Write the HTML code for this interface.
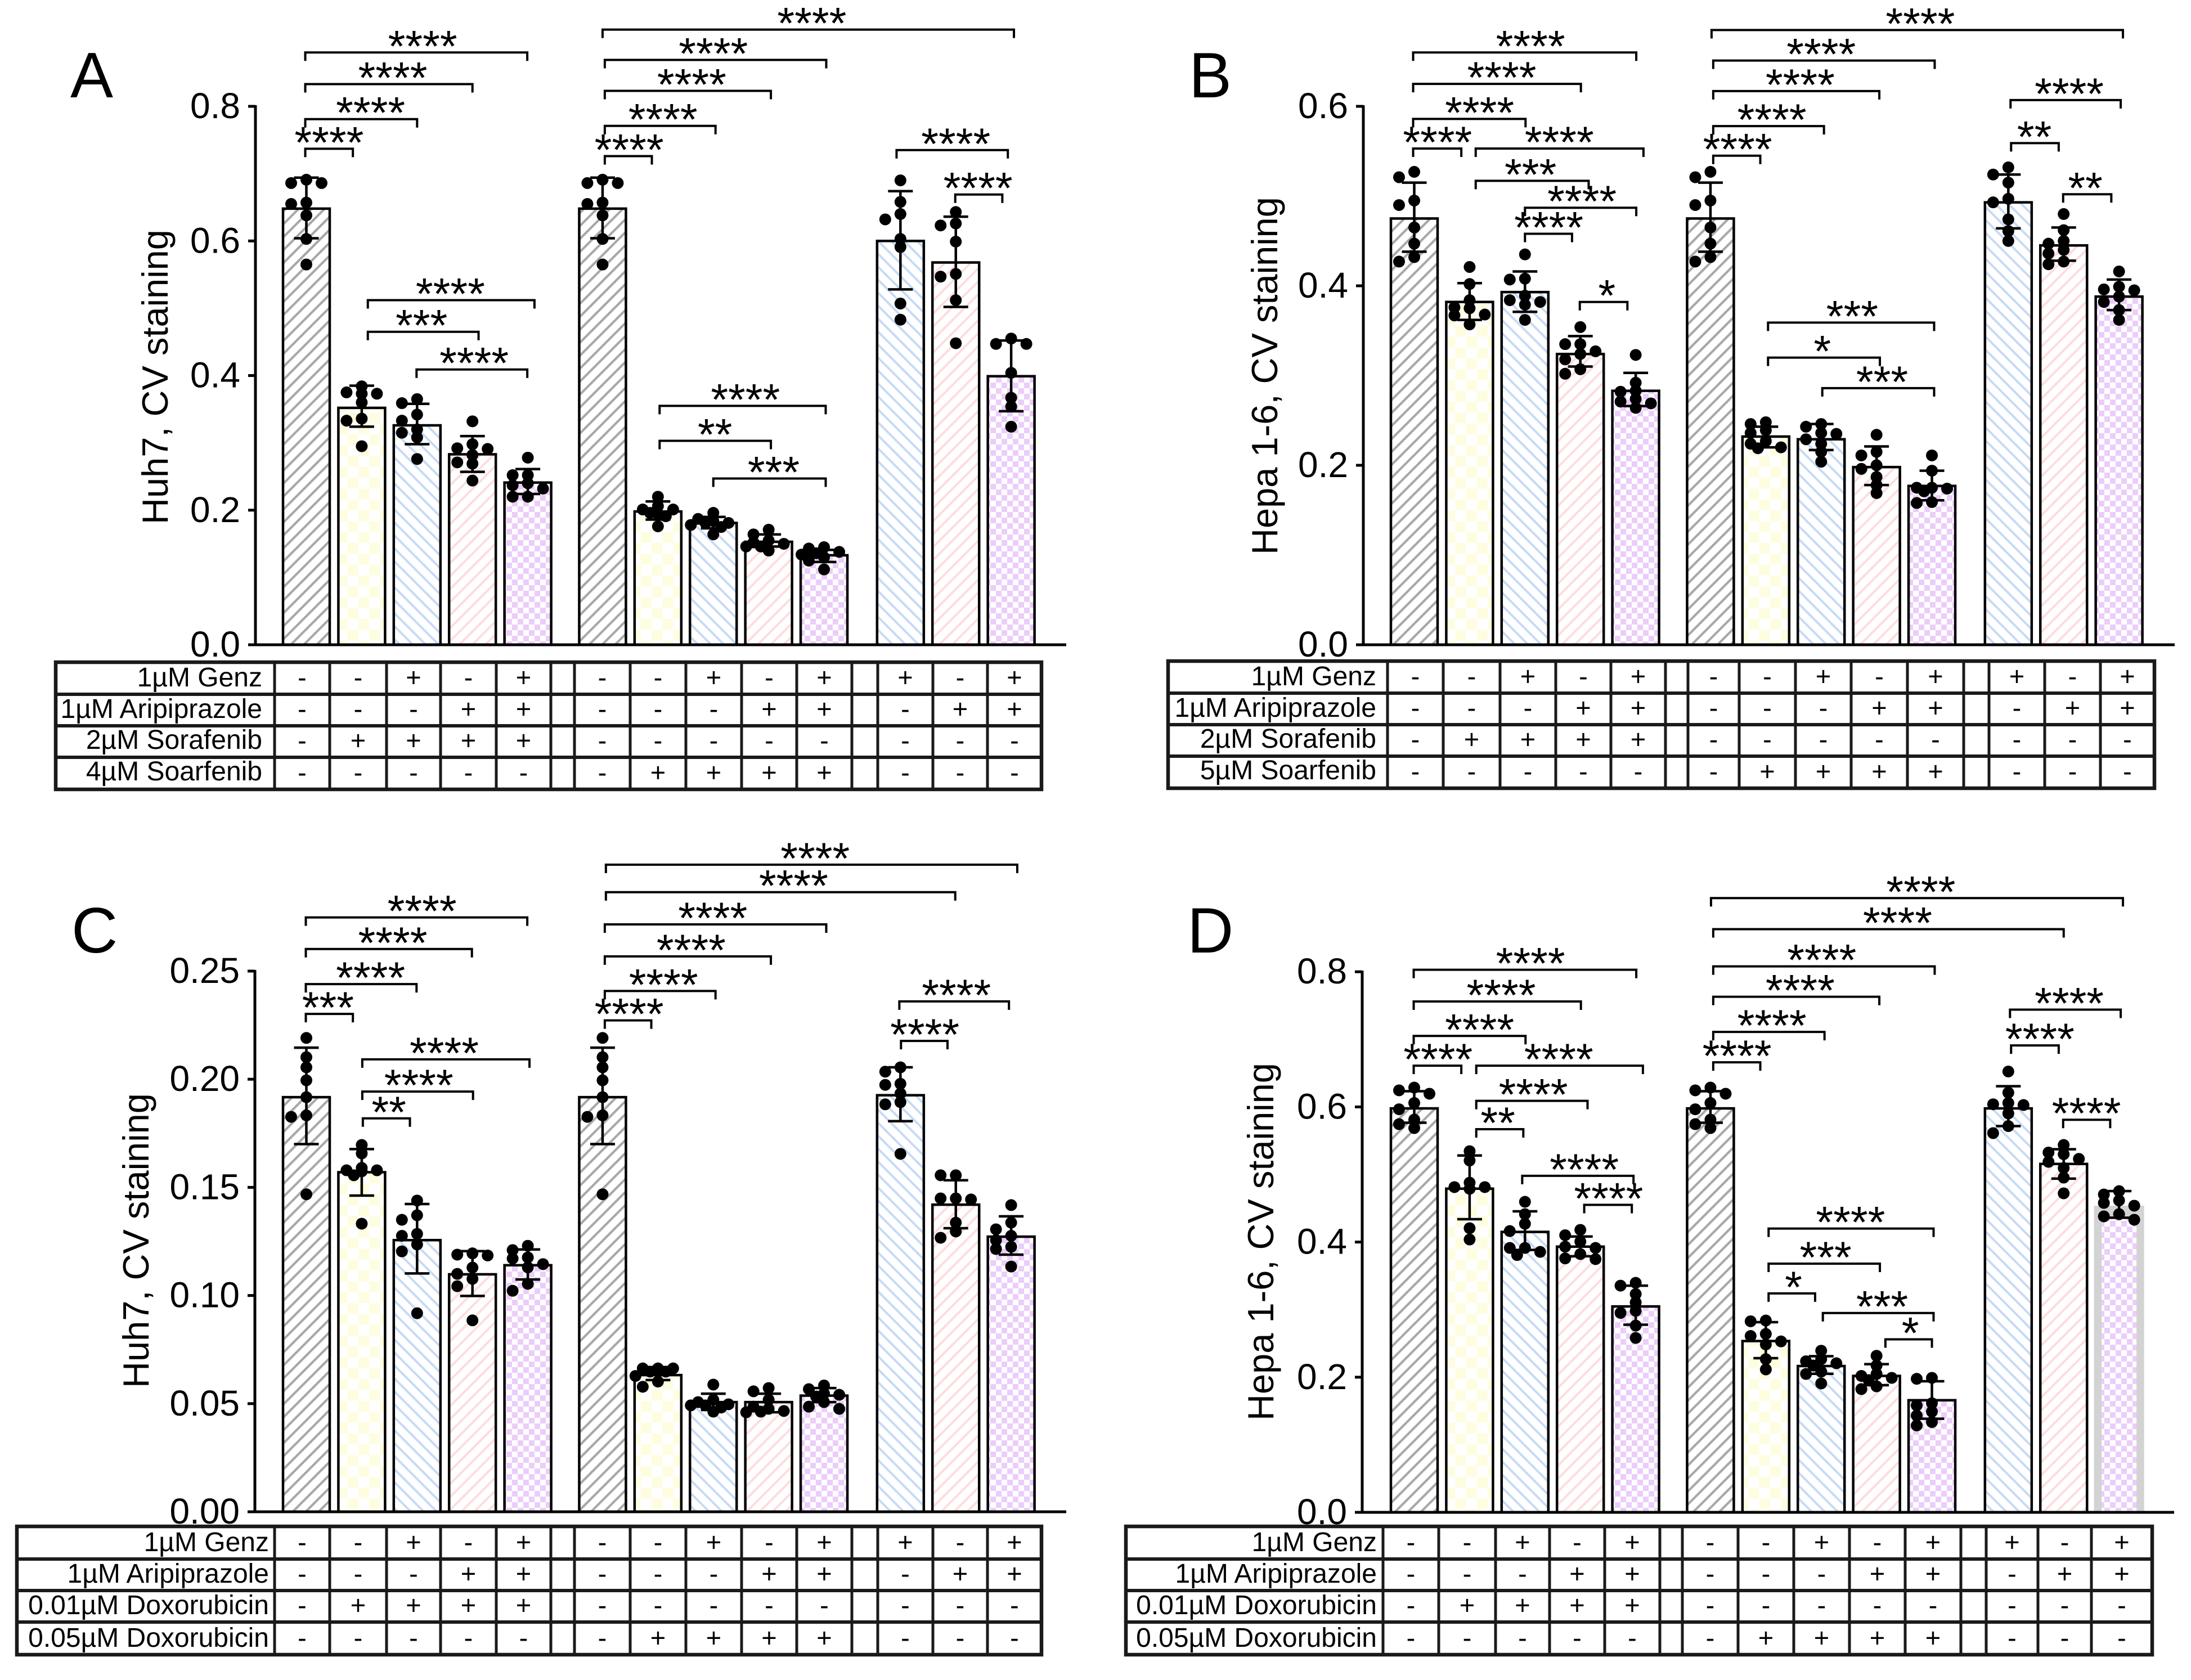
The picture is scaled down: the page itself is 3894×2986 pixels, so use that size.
<!DOCTYPE html>
<html lang="en">
<head>
<meta charset="utf-8">
<title>CV staining bar charts</title>
<style>
html,body{margin:0;padding:0;background:#fff;}
svg{display:block;font-family:"Liberation Sans",sans-serif;}
.ytitle{font-size:65px;text-anchor:middle;}
.letter{font-size:114px;}
.rowlab{font-size:48px;text-anchor:end;}
</style>
</head>
<body>
<svg id="fig" xmlns="http://www.w3.org/2000/svg" width="3894" height="2986" viewBox="0 0 3894 2986">
<defs>
<pattern id="p0" width="16.3" height="16.3" patternUnits="userSpaceOnUse" patternTransform="rotate(45)"><rect width="16.3" height="16.3" fill="#fff"/><rect width="4.2" height="16.3" fill="#a8a8a8"/></pattern>
<pattern id="p1" width="38.6" height="38.6" patternUnits="userSpaceOnUse"><rect width="38.6" height="38.6" fill="#fff"/><rect width="19.3" height="19.3" fill="#fffde0"/><rect x="19.3" y="19.3" width="19.3" height="19.3" fill="#fffde0"/></pattern>
<pattern id="p2" width="16.3" height="16.3" patternUnits="userSpaceOnUse" patternTransform="rotate(-45)"><rect width="16.3" height="16.3" fill="#fff"/><rect width="4" height="16.3" fill="#c6daf6"/></pattern>
<pattern id="p3" width="16.3" height="16.3" patternUnits="userSpaceOnUse" patternTransform="rotate(45)"><rect width="16.3" height="16.3" fill="#fff"/><rect width="4" height="16.3" fill="#ffdcdc"/></pattern>
<pattern id="p4" width="20" height="20" patternUnits="userSpaceOnUse"><rect width="20" height="20" fill="#fff"/><rect width="10" height="10" fill="#ebcdf9"/><rect x="10" y="10" width="10" height="10" fill="#ebcdf9"/></pattern>
</defs>

<text class="letter" x="125" y="173">A</text>
<text class="letter" x="2113" y="173">B</text>
<text class="letter" x="127" y="1693">C</text>
<text class="letter" x="2110" y="1693">D</text>

<text class="ytitle" transform="translate(298,670) rotate(-90)">Huh7, CV staining</text>
<text class="ytitle" transform="translate(2270,668) rotate(-90)">Hepa 1-6, CV staining</text>
<text class="ytitle" transform="translate(264,2205) rotate(-90)">Huh7, CV staining</text>
<text class="ytitle" transform="translate(2263,2207) rotate(-90)">Hepa 1-6, CV staining</text>

<text class="rowlab" x="466" y="1220">1µM Genz</text>
<text class="rowlab" x="466" y="1276">1µM Aripiprazole</text>
<text class="rowlab" x="466" y="1331">2µM Sorafenib</text>
<text class="rowlab" x="466" y="1387">4µM Soarfenib</text>

<text class="rowlab" x="2446" y="1218">1µM Genz</text>
<text class="rowlab" x="2446" y="1274">1µM Aripiprazole</text>
<text class="rowlab" x="2446" y="1329">2µM Sorafenib</text>
<text class="rowlab" x="2446" y="1385">5µM Soarfenib</text>

<text class="rowlab" x="478" y="2757">1µM Genz</text>
<text class="rowlab" x="478" y="2813">1µM Aripiprazole</text>
<text class="rowlab" x="478" y="2869">0.01µM Doxorubicin</text>
<text class="rowlab" x="478" y="2927">0.05µM Doxorubicin</text>

<text class="rowlab" x="2447" y="2757">1µM Genz</text>
<text class="rowlab" x="2447" y="2813">1µM Aripiprazole</text>
<text class="rowlab" x="2447" y="2869">0.01µM Doxorubicin</text>
<text class="rowlab" x="2447" y="2927">0.05µM Doxorubicin</text>
</svg>

<script>
// Shared categories: slot position of each bar on the x axis
const barSlots = [0,1,2,3,4,5.35,6.35,7.35,8.35,9.35,10.73,11.73,12.73];
const barPatterns = [0,1,2,3,4,0,1,2,3,4,2,3,4];

// Treatment rows (identical in each table)
const rowGenz = ['-','-','+','-','+','-','-','+','-','+','+','-','+'];
const rowArip = ['-','-','-','+','+','-','-','-','+','+','-','+','+'];
const rowDrugLow = ['-','+','+','+','+','-','-','-','-','-','-','-','-'];
const rowDrugHigh = ['-','-','-','-','-','-','+','+','+','+','-','-','-'];

// Panel A
const ticksA = [0,0.2,0.4,0.6,0.8];
const tickLabelsA = ['0.0','0.2','0.4','0.6','0.8'];
const meansA = [.648,.352,.326,.283,.241,.648,.198,.181,.153,.133,.600,.568,.399];
const errHighA = [.694,.385,.358,.310,.261,.694,.213,.190,.164,.141,.674,.636,.452];
const errLowA = [.604,.324,.298,.257,.224,.604,.186,.173,.146,.123,.528,.502,.347];
const pointsA = [
[.691,.686,.686,.657,.655,.638,.603,.565],
[.384,.375,.373,.373,.360,.336,.333,.295],
[.365,.359,.342,.333,.320,.315,.308,.276],
[.332,.298,.292,.291,.282,.271,.269,.244],
[.278,.252,.252,.240,.237,.232,.220,.220],
[.691,.686,.686,.657,.655,.638,.603,.565],
[.220,.206,.201,.201,.196,.194,.191,.176],
[.196,.187,.184,.181,.181,.178,.175,.164],
[.171,.164,.155,.152,.150,.146,.146,.140],
[.145,.143,.138,.136,.134,.130,.125,.112],
[.690,.658,.640,.632,.603,.591,.507,.483],
[.643,.626,.623,.599,.551,.547,.512,.448],
[.455,.447,.447,.404,.367,.354,.324]
];
const bracketsA = [
[-.02,.84,.737,'****',.41],[-.02,2,.781,'****',1.16],[-.02,3,.833,'****',1.56],[-.02,3.99,.880,'****',2.10],
[1.11,4.12,.512,'****',2.60],[1.11,3.11,.465,'***',2.08],[1.99,3.99,.409,'****',3.03],
[5.39,6.24,.726,'****',5.83],[5.39,7.39,.771,'****',6.44],[5.39,8.39,.823,'****',6.96],[5.39,9.39,.869,'****',7.35],
[5.35,12.78,.914,'****',9.13],[6.38,9.38,.355,'****',7.93],[6.38,8.39,.303,'**',7.38],[7.35,9.38,.247,'***',8.44],
[10.66,12.67,.735,'****',11.73],[11.72,12.57,.669,'****',12.13]
];

// Panel B
const ticksB = [0,0.2,0.4,0.6];
const tickLabelsB = ['0.0','0.2','0.4','0.6'];
const meansB = [.475,.382,.393,.324,.283,.475,.232,.229,.198,.177,.493,.445,.388];
const errHighB = [.515,.403,.416,.344,.303,.515,.243,.246,.221,.194,.524,.465,.407];
const errLowB = [.438,.362,.371,.310,.266,.438,.220,.217,.178,.161,.464,.428,.373];
const pointsB = [
[.527,.521,.495,.490,.465,.447,.432,.427],
[.421,.402,.384,.376,.375,.368,.367,.357],
[.435,.408,.407,.389,.384,.382,.379,.362],
[.354,.335,.335,.327,.324,.318,.307,.302],
[.323,.292,.283,.282,.274,.271,.269,.264],
[.527,.521,.495,.490,.465,.447,.432,.427],
[.248,.246,.239,.236,.227,.224,.220,.219],
[.246,.243,.236,.235,.229,.224,.215,.204],
[.234,.215,.211,.200,.196,.187,.178,.169],
[.211,.194,.175,.175,.174,.171,.159,.158],
[.532,.524,.515,.497,.493,.474,.461,.450],
[.480,.462,.450,.447,.440,.436,.427,.424],
[.416,.399,.396,.395,.388,.382,.373,.362]
];
const bracketsB = [
[-.02,.85,.553,'****',.42],[-.02,2.01,.586,'****',1.18],[-.02,3.01,.625,'****',1.58],[-.02,4.01,.660,'****',2.10],
[1.11,4.14,.553,'****',2.62],[1.11,3.15,.517,'***',2.10],[2,4.01,.487,'****',3.03],[2,2.85,.458,'****',2.43],[2.99,3.85,.382,'*',3.48],
[5.40,6.25,.545,'****',5.84],[5.40,7.40,.578,'****',6.46],[5.40,8.40,.617,'****',6.97],[5.40,9.40,.651,'****',7.35],
[5.37,12.80,.685,'****',9.14],[6.39,9.39,.359,'***',7.91],[6.39,8.41,.320,'*',7.37],[7.37,9.39,.286,'***',8.45],
[10.77,12.76,.607,'****',11.83],[10.78,11.64,.559,'**',11.20],[11.72,12.59,.502,'**',12.12]
];

// Panel C
const ticksC = [0,0.05,0.10,0.15,0.20,0.25];
const tickLabelsC = ['0.00','0.05','0.10','0.15','0.20','0.25'];
const meansC = [.1917,.1570,.1256,.1098,.1140,.1917,.0632,.0507,.0507,.0537,.1926,.1420,.1272];
const errHighC = [.2146,.1677,.1423,.1205,.1213,.2146,.0669,.0546,.0546,.0572,.2055,.1533,.1366];
const errLowC = [.1700,.1462,.1102,.0998,.1074,.1700,.0609,.0471,.0460,.0507,.1806,.1311,.1189];
const pointsC = [
[.2191,.2102,.2055,.1995,.1917,.1833,.1826,.1468],
[.1696,.1657,.1590,.1579,.1579,.1574,.1556,.1332],
[.1439,.1371,.1350,.1285,.1276,.1236,.1204,.0918],
[.1195,.1189,.1185,.1129,.1100,.1077,.1043,.0885],
[.1230,.1210,.1176,.1171,.1145,.1130,.1054,.1022],
[.2191,.2102,.2055,.1995,.1917,.1833,.1826,.1468],
[.0663,.0663,.0663,.0648,.0648,.0628,.0602,.0578],
[.0588,.0518,.0507,.0497,.0492,.0492,.0482,.0463],
[.0572,.0557,.0518,.0486,.0476,.0466,.0463,.0460],
[.0584,.0567,.0547,.0541,.0533,.0507,.0486,.0476],
[.2055,.2035,.1979,.1974,.1934,.1894,.1884,.1655],
[.1556,.1556,.1449,.1449,.1444,.1337,.1296,.1267],
[.1418,.1337,.1306,.1276,.1256,.1225,.1215,.1134]
];
const bracketsC = [
[-.01,.84,.2302,'***',.39],[-.01,1.99,.2440,'****',1.16],[-.01,2.99,.2602,'****',1.56],[-.01,3.99,.2748,'****',2.09],
[1.01,4.03,.2092,'****',2.49],[1.01,3.01,.1943,'****',2.03],[1.02,1.87,.1819,'**',1.49],
[5.39,6.23,.2272,'****',5.83],[5.39,7.39,.2408,'****',6.45],[5.39,8.39,.2568,'****',6.95],[5.39,9.39,.2716,'****',7.34],
[5.41,11.72,.2865,'****',8.80],[5.41,12.84,.2992,'****',9.19],
[10.74,11.58,.2177,'****',11.17],[10.71,12.69,.2360,'****',11.74]
];

// Panel D
const ticksD = [0,0.2,0.4,0.6,0.8];
const tickLabelsD = ['0.0','0.2','0.4','0.6','0.8'];
const meansD = [.5978,.4790,.4150,.3932,.3047,.5978,.2535,.2165,.2019,.1659,.5978,.5156,.4538];
const errHighD = [.6232,.5281,.4455,.4082,.3355,.6232,.2814,.2311,.2193,.1940,.6306,.5374,.4754];
const errLowD = [.5766,.4338,.3883,.3790,.2777,.5766,.2281,.2050,.1882,.1385,.5716,.4939,.4360];
const pointsD = [
[.6286,.6245,.6195,.6058,.5965,.5812,.5745,.5687],
[.5345,.5207,.4879,.4813,.4813,.4788,.4205,.4038],
[.4596,.4413,.4271,.4163,.3913,.3913,.3855,.3808],
[.4180,.4101,.4007,.3932,.3913,.3822,.3758,.3747],
[.3397,.3355,.3231,.3106,.2981,.2951,.2764,.2581],
[.6286,.6245,.6195,.6058,.5965,.5812,.5745,.5687],
[.2839,.2827,.2640,.2610,.2530,.2485,.2267,.2115],
[.2392,.2267,.2236,.2206,.2173,.2082,.2048,.1907],
[.2317,.2173,.2048,.2019,.1990,.1957,.1865,.1824],
[.1990,.1976,.1615,.1582,.1490,.1432,.1336,.1286],
[.6524,.6211,.6058,.6039,.6028,.5903,.5716,.5612],
[.5437,.5325,.5300,.5231,.5187,.5096,.4954,.4721],
[.4754,.4704,.4616,.4579,.4538,.4413,.4380,.4330]
];
const bracketsD = [
[-.01,.85,.661,'****',.43],[-.01,2.01,.705,'****',1.18],[-.01,3.01,.756,'****',1.57],[-.01,4.01,.803,'****',2.10],
[1.12,4.13,.661,'****',2.61],[1.12,3.13,.609,'****',2.15],[1.12,1.97,.567,'**',1.51],[1.95,3.96,.498,'****',3.07],[3.07,3.93,.455,'****',3.51],
[5.40,6.25,.666,'****',5.83],[5.40,7.41,.711,'****',6.46],[5.40,8.40,.763,'****',6.97],[5.40,9.40,.808,'****',7.36],
[5.40,11.73,.863,'****',8.73],[5.36,12.80,.909,'****',9.15],[6.40,9.38,.420,'****',7.88],[6.40,8.41,.368,'***',7.43],[6.40,7.24,.324,'*',6.85],
[7.38,9.38,.295,'***',8.45],[8.51,9.35,.256,'*',8.96],
[10.78,11.64,.691,'****',11.30],[10.76,12.76,.744,'****',11.83],[11.72,12.57,.581,'****',12.14]
];

const svgNS = 'http://www.w3.org/2000/svg';
const fig = document.getElementById('fig');
const SLOT = 98.4;

function mk(tag, attrs, parent, text) {
  const e = document.createElementNS(svgNS, tag);
  for (const k in attrs) e.setAttribute(k, attrs[k]);
  if (text !== undefined) e.textContent = text;
  parent.appendChild(e);
  return e;
}

function drawPanel(p) {
  const xs = u => p.x0 + u * SLOT;
  const ys = v => p.y0 - v * p.k;
  const g = mk('g', {}, fig);
  
  

  // bars
  p.means.forEach((m, i) => {
    const cx = xs(barSlots[i]);
    const top = ys(m);
    if (p.hollowBar === i) {
      const bg = mk('rect', {x: cx - 44.5, y: top, width: 89, height: p.y0 - top, fill: '#d3d3d3'}, g);
      
      
      const b = mk('rect', {x: cx - 31, y: top + 22, width: 62, height: p.y0 - top - 22, fill: 'url(#p' + barPatterns[i] + ')'}, g);
      
      
    } else {
      const b = mk('rect', {x: cx - 41.5, y: top, width: 83, height: p.y0 - top, fill: 'url(#p' + barPatterns[i] + ')', stroke: '#000', 'stroke-width': 4.5}, g);
      
      
    }
  });

  // axes
  const yAxis = mk('line', {x1: p.axisX, x2: p.axisX, y1: ys(p.ticks[p.ticks.length - 1]) - 2, y2: p.y0 + 2, stroke: '#000', 'stroke-width': 5}, g);
  
  
  const xAxis = mk('line', {x1: p.axisX - 13, x2: p.axisRight, y1: p.y0, y2: p.y0, stroke: '#000', 'stroke-width': 5}, g);
  
  
  p.ticks.forEach((t, i) => {
    const tick = mk('line', {x1: p.axisX - 13, x2: p.axisX, y1: ys(t), y2: ys(t), stroke: '#000', 'stroke-width': 5}, g);
    
    
    const lab = mk('text', {x: p.axisX - 27, y: ys(t) + 21, 'font-size': 64, 'text-anchor': 'end'}, g, p.tickLabels[i]);
    
    
  });

  // dots (beeswarm layout around each bar centre)
  p.points.forEach((vals, i) => {
    const cx = xs(barSlots[i]);
    const placed = [];
    vals.forEach(v => {
      const py = ys(v);
      let ox = 0;
      for (const o of [0, -27, 27, -14, 14, -40, 40]) {
        if (!placed.some(q => Math.hypot(q[0] - o, q[1] - py) < 14)) { ox = o; break; }
      }
      placed.push([ox, py]);
      const c = mk('circle', {cx: cx + ox, cy: py, r: 10.5, fill: '#000'}, g);
      
      
    });
  });

  // error bars
  p.means.forEach((m, i) => {
    const cx = xs(barSlots[i]);
    const d = 'M' + cx + ',' + ys(p.errLow[i]) + 'V' + ys(p.errHigh[i]) +
      'M' + (cx - 22) + ',' + ys(p.errHigh[i]) + 'h44' +
      'M' + (cx - 22) + ',' + ys(p.errLow[i]) + 'h44';
    const e = mk('path', {d: d, stroke: '#000', 'stroke-width': 4.5, fill: 'none'}, g);
    
    
  });

  // significance brackets
  p.brackets.forEach(b => {
    const y = ys(b[2]);
    const d = 'M' + xs(b[0]) + ',' + (y + 15) + 'V' + y + 'H' + xs(b[1]) + 'V' + (y + 15);
    const br = mk('path', {d: d, stroke: '#000', 'stroke-width': 4, fill: 'none'}, g);
    
    
    const st = mk('text', {x: xs(b[4]), y: y + 16, 'font-size': 79, 'text-anchor': 'middle'}, g, b[3]);
    
    
  });

  // treatment table
  const t = p.table;
  const tg = mk('g', {}, fig);
  
  
  const outer = mk('rect', {x: t.left, y: t.rows[0], width: t.cols[t.cols.length - 1] - t.left, height: t.rows[4] - t.rows[0], fill: 'none', stroke: '#1a1a1a', 'stroke-width': 6.5}, tg);
  
  
  t.rows.slice(1, 4).forEach(y => {
    const l = mk('line', {x1: t.left, x2: t.cols[t.cols.length - 1], y1: y, y2: y, stroke: '#1a1a1a', 'stroke-width': 6}, tg);
    
    
  });
  t.cols.slice(0, -1).forEach(x => {
    const l = mk('line', {x1: x, x2: x, y1: t.rows[0], y2: t.rows[4], stroke: '#1a1a1a', 'stroke-width': 5}, tg);
    
    
  });
  [rowGenz, rowArip, rowDrugLow, rowDrugHigh].forEach((row, r) => {
    row.forEach((s, i) => {
      const cx = (t.cols[t.map[i]] + t.cols[t.map[i] + 1]) / 2;
      const sg = mk('text', {x: cx, y: t.rows[r + 1] - 14, 'font-size': 47, 'text-anchor': 'middle'}, tg, s);
      
      
    });
  });
}

const colMap = [0,1,2,3,4,6,7,8,9,10,12,13,14];
const colsAC = [488,586,687,783,882,979,1021,1120,1219,1318,1416,1514,1560,1658,1755,1851];
const colsB = [2466,2565,2666,2765,2863,2960,3000,3091,3191,3290,3390,3490,3535,3634,3733,3829];
const colsD = [2458,2557,2658,2754,2852,2950,2990,3089,3188,3287,3386,3485,3530,3622,3717,3825];

drawPanel({id:'a', x0:544.5, y0:1146, k:1196.25, axisX:454, axisRight:1895, ticks:ticksA, tickLabels:tickLabelsA,
  means:meansA, errHigh:errHighA, errLow:errLowA, points:pointsA, brackets:bracketsA,
  table:{left:99, rows:[1177,1234,1290,1346,1403], cols:colsAC, map:colMap}});
drawPanel({id:'b', x0:2513.5, y0:1146, k:1595, axisX:2423, axisRight:3865, ticks:ticksB, tickLabels:tickLabelsB,
  means:meansB, errHigh:errHighB, errLow:errLowB, points:pointsB, brackets:bracketsB,
  table:{left:2076, rows:[1175,1232,1288,1344,1401], cols:colsB, map:colMap}});
drawPanel({id:'c', x0:544.5, y0:2687, k:3844, axisX:453, axisRight:1895, ticks:ticksC, tickLabels:tickLabelsC,
  means:meansC, errHigh:errHighC, errLow:errLowC, points:pointsC, brackets:bracketsC,
  table:{left:30, rows:[2713,2771,2827,2883,2941], cols:colsAC, map:colMap}});
drawPanel({id:'d', x0:2513.5, y0:2688, k:1201, axisX:2421, axisRight:3864, ticks:ticksD, tickLabels:tickLabelsD,
  means:meansD, errHigh:errHighD, errLow:errLowD, points:pointsD, brackets:bracketsD, hollowBar:12,
  table:{left:2001, rows:[2713,2771,2827,2883,2941], cols:colsD, map:colMap}});
</script>
</body>
</html>
